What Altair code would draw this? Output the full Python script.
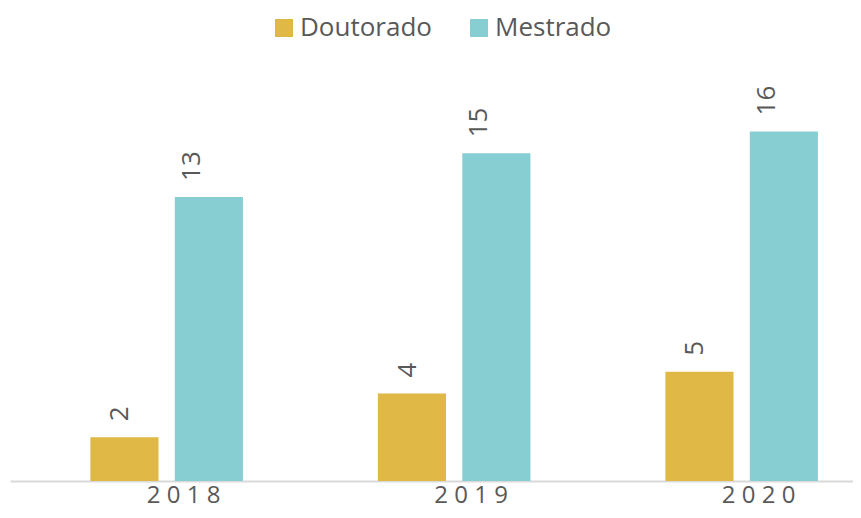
import altair as alt
import pandas as pd

years = ["2018", "2019", "2020"]
doutorado = [2, 4, 5]
mestrado = [13, 15, 16]
series = ["Doutorado", "Mestrado"]
colors = ["#E0B845", "#87CED3"]

rows = []
for i, y in enumerate(years):
    rows.append({"ano": y, "tipo": "Doutorado", "valor": doutorado[i]})
    rows.append({"ano": y, "tipo": "Mestrado", "valor": mestrado[i]})
df = pd.DataFrame(rows)

FONT = "Open Sans"
GRAY = "#595959"

x = alt.X("ano:N", sort=years, title=None,
          scale=alt.Scale(paddingInner=0.443, paddingOuter=0.1876, align=0.71),
          axis=alt.Axis(labelAngle=0, labelFont=FONT, labelFontSize=24, labelColor=GRAY,
                        labelPadding=2, labelOffset=17, ticks=False,
                        domainColor="#D9D9D9", domainWidth=2,
                        labelExpr="join(split(datum.label, ''), ' ')"))
xo = alt.XOffset("tipo:N", sort=series, scale=alt.Scale(paddingInner=0.193, paddingOuter=0.045))
y = alt.Y("valor:Q", scale=alt.Scale(domain=[0, 20], nice=False), axis=None)

base = alt.Chart(df)

bars = base.mark_bar().encode(
    x=x, xOffset=xo, y=y,
    color=alt.Color("tipo:N", sort=series, scale=alt.Scale(domain=series, range=colors),
                    legend=alt.Legend(title=None, orient="none", legendX=261, legendY=-29,
                                      direction="horizontal", symbolType="square",
                                      symbolSize=324, symbolStrokeWidth=0, symbolOpacity=1,
                                      labelFont=FONT, labelFontSize=26, labelColor=GRAY,
                                      labelOffset=3, columnPadding=34)),
)

def labels(t, dy):
    return base.transform_filter(alt.datum.tipo == t).mark_text(
        angle=270, align="left", baseline="middle", dx=16, dy=dy,
        font=FONT, fontSize=26, color=GRAY
    ).encode(x=x, xOffset=xo, y=y, text="valor:Q")

chart = alt.layer(bars, labels("Doutorado", -4), labels("Mestrado", -17)).properties(
    width=843, height=437,
    autosize=alt.AutoSizeParams(type="none"),
    padding={"left": 2, "top": 36, "right": 0, "bottom": 29},
).configure_view(stroke=None)

chart.save("out.html", embed_options={"renderer": "svg", "actions": False})
